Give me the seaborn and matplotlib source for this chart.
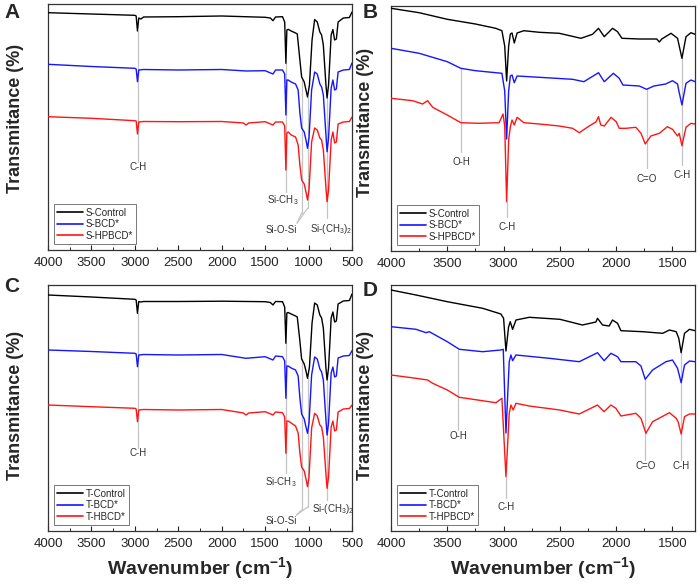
import matplotlib
matplotlib.use("Agg")
import matplotlib.pyplot as plt
import seaborn as sns
from matplotlib.ticker import MultipleLocator

# ---------------- data (transmittance in arbitrary offset units) ----------------
# Panel A  (S- samples, full range)
A_black_wn = [4000, 3500, 3000, 2985, 2970, 2955, 2930, 2900, 2500, 2150, 2000, 1500, 1440, 1410, 1380,
              1300, 1275, 1261, 1250, 1235, 1200, 1150, 1130, 1100, 1080, 1050, 1030, 1012, 990, 960,
              930, 900, 870, 850, 830, 800, 787, 770, 740, 720, 700, 680, 660, 600, 530, 500]
A_black_t = [237.3, 236, 234.7, 234, 219, 232, 231, 233, 233.3, 233.8, 234, 232.7, 232, 229.3, 233,
             233.3, 228, 186.7, 220, 220.7, 219, 217, 216, 190, 173, 168, 160, 153, 165, 210,
             230.5, 228, 218, 215, 205, 165, 152, 165, 215, 220.5, 210, 211, 228, 232, 232.5, 238]
A_blue_wn = [4000, 3500, 3000, 2985, 2970, 2955, 2900, 2500, 2000, 1720, 1500, 1410, 1380, 1300, 1275,
             1261, 1250, 1235, 1200, 1150, 1120, 1100, 1080, 1050, 1030, 1012, 995, 965, 930, 900,
             870, 850, 830, 800, 787, 770, 740, 720, 700, 680, 660, 600, 530, 500]
A_blue_t = [185.7, 183.5, 181.7, 181, 168.3, 180, 180.5, 180, 180.5, 179, 179.3, 176, 180, 180, 176,
            135, 170, 170, 168, 166, 160, 137, 122, 118, 110, 101.7, 112, 160, 178, 176,
            166, 163, 155, 115, 98.3, 112, 162, 170, 160, 161, 178, 180, 180.5, 187]
A_red_wn = [4000, 3500, 3000, 2985, 2970, 2955, 2900, 2500, 2000, 1750, 1720, 1690, 1500, 1410, 1380,
            1300, 1275, 1261, 1250, 1235, 1200, 1150, 1120, 1100, 1080, 1050, 1030, 1012, 995, 965,
            930, 900, 870, 850, 830, 800, 787, 770, 740, 720, 700, 680, 660, 600, 530, 500]
A_red_t = [133.3, 131.7, 129.3, 129, 116, 128, 128.5, 128.3, 128.5, 127, 125, 127, 128.3, 125, 128,
           128, 124, 80, 117, 118, 115, 113, 105, 85, 70, 66, 58, 50, 60, 108,
           122, 120, 112, 110, 100, 62, 48.3, 60, 110, 118, 107, 108, 126, 128, 128.5, 133]

# Panel B  (S- samples, 4000-1300)
B_black_wn = [4000, 3750, 3500, 3250, 3070, 3015, 2990, 2973, 2955, 2940, 2925, 2905, 2880, 2820, 2683,
              2506, 2313, 2210, 2157, 2106, 2032, 1988, 1949, 1795, 1640, 1617, 1595, 1513, 1455,
              1416, 1380, 1336, 1300]
B_black_t = [242.7, 238.3, 231.7, 227, 222.7, 220.3, 205, 170, 205, 217, 218, 208, 218, 220.3, 218.7,
             217.7, 212.7, 216.7, 222.7, 214.3, 222.7, 219.3, 212.7, 212, 212, 209, 212, 217.7, 212.7,
             192.7, 214.3, 218.3, 216.7]
B_blue_wn = [4000, 3750, 3500, 3380, 3250, 3015, 2990, 2973, 2955, 2940, 2925, 2905, 2880, 2683, 2387,
             2287, 2157, 2106, 2025, 1973, 1940, 1795, 1730, 1665, 1560, 1500, 1455, 1445, 1416,
             1380, 1336, 1300]
B_blue_t = [202.7, 197.7, 189.3, 182.7, 180.3, 177.7, 160, 112, 160, 175, 176, 168.3, 175, 173.7, 171.7,
            169.3, 178.3, 169.3, 177.7, 172.7, 166, 165, 161.7, 165, 167, 170.3, 167, 161, 146,
            167.7, 171, 169.3]
B_red_wn = [4000, 3808, 3720, 3675, 3630, 3500, 3380, 3220, 3040, 3005, 2990, 2973, 2955, 2940, 2925,
            2905, 2880, 2820, 2683, 2506, 2387, 2328, 2240, 2180, 2157, 2137, 2106, 2045, 2000,
            1973, 1913, 1825, 1780, 1742, 1692, 1617, 1545, 1500, 1455, 1440, 1416, 1380, 1336, 1300]
B_red_t = [152.7, 150.3, 147, 150.3, 143.7, 136, 128.3, 127.7, 128.3, 137, 125, 49.3, 111, 124.3, 131,
           126, 133.7, 128.3, 127, 125, 122.7, 118.3, 125, 129, 134.3, 126, 125, 133.7, 129.3,
           122.7, 122.7, 123.7, 117.7, 107, 115, 117.7, 124.3, 121.7, 115, 117.7, 105.3, 123.7, 127.7, 127]

# Panel C  (T- samples, full range)
C_black_wn = A_black_wn
C_black_t = [236, 234, 231.7, 231, 217.7, 229.5, 229, 229.5, 229.5, 229.7, 229.8, 229.3, 228.5, 226, 229.5,
             229.3, 224, 187.7, 218, 218.5, 217, 215, 214, 190, 172, 167, 160, 152.7, 164, 208,
             228, 226, 216, 213, 203, 163, 151, 163, 213, 219, 209, 210, 227, 230, 230.5, 237]
C_blue_wn = A_blue_wn
C_blue_t = [181, 179.5, 177.7, 177, 164.3, 176, 176.5, 176, 176.5, 172.7, 174.3, 171, 175, 174.3, 170,
            132.7, 165, 165, 163, 161, 155, 133, 117, 112, 104, 97.7, 108, 156, 174, 172,
            162, 159, 151, 111, 96, 108, 158, 164, 154, 155, 173, 175, 175.5, 180.3]
C_red_wn = A_red_wn
C_red_t = [126, 124.3, 122.7, 122, 109.3, 121, 121.5, 121, 121.5, 118, 116, 118, 119.3, 116, 119,
           118.3, 114, 77.7, 110, 110, 108, 105, 98, 78, 64, 60, 52, 44.3, 54, 103,
           117.7, 115, 106, 104, 94, 57, 42.7, 54, 104, 110, 100, 101, 119, 122, 122.5, 126]

# Panel D  (T- samples, 4000-1300)
D_black_wn = [4000, 3778, 3500, 3186, 3024, 3000, 2979, 2956, 2941, 2920, 2890, 2772, 2500, 2300, 2180,
              2166, 2121, 2062, 2033, 1988, 1958, 1765, 1587, 1527, 1467, 1444, 1423, 1393, 1349, 1300]
D_black_t = [241, 236, 229.3, 222.7, 217, 212.7, 180, 204, 209.3, 201.7, 211, 213.7, 211.7, 206, 209,
             212.7, 206, 205, 211, 207.7, 200.3, 199.3, 197.7, 201, 199.3, 192.7, 178.3, 197.7, 201.7, 200.3]
D_blue_wn = [4000, 3778, 3689, 3660, 3500, 3393, 3186, 3024, 3003, 2979, 2950, 2935, 2920, 2890, 2595,
             2328, 2166, 2107, 2047, 1988, 1958, 1825, 1780, 1742, 1677, 1558, 1500, 1455, 1423,
             1393, 1349, 1300]
D_blue_t = [204.3, 201.7, 198.3, 199.3, 189.3, 181.7, 179.3, 181, 181.7, 98, 169.3, 176, 170.3, 176, 172.7,
            169.3, 178.3, 170.3, 177.7, 174.3, 169.3, 169.3, 165, 151.7, 161, 169.3, 171, 162.7, 148.3,
            166, 170, 169.3]
D_red_wn = [4000, 3778, 3675, 3630, 3500, 3393, 3068, 3015, 2979, 2950, 2935, 2915, 2890, 2772, 2500,
            2328, 2166, 2107, 2047, 2003, 1958, 1825, 1780, 1736, 1677, 1527, 1467, 1450, 1423,
            1393, 1349, 1300]
D_red_t = [156, 152.7, 151, 147.7, 141, 133.7, 128.3, 132.7, 54.3, 117.7, 126, 121, 127.7, 125, 121,
           117, 126, 119.3, 126, 122.7, 115, 117.7, 112.7, 97.7, 109.3, 118.3, 112.7, 109.3, 97,
           114.3, 117, 117]

S_labels = ["S-Control", "S-BCD*", "S-HPBCD*"]
C_labels = ["T-Control", "T-BCD*", "T-HBCD*"]
D_labels = ["T-Control", "T-BCD*", "T-HPBCD*"]

# annotations: text, line x positions, line tops, line bottoms, join point (or None), text x, text y
A_notes = [("C-H", [2966], [219], [88], None, 2966, 83),
           ("Si-CH$_3$", [1261], [186.7], [58], None, 1300, 50),
           ("Si-O-Si", [1080, 1010], [173, 153], [37, 42], (1132, 27), 1311, 20),
           ("Si-(CH$_3$)$_2$", [786], [152], [32], None, 736, 20.5)]
B_notes = [("O-H", [3378], [182.7], [99], None, 3378, 89),
           ("C-H", [2973], [49], [34], None, 2973, 24),
           ("C=O", [1730], [161.7], [83], None, 1730, 72.5),
           ("C-H", [1416], [192.7], [86], None, 1416, 76)]
C_notes = [("C-H", [2966], [217.7], [83], None, 2966, 77.5),
           ("Si-CH$_3$", [1261], [187.7], [58], None, 1320, 49),
           ("Si-O-Si", [1080, 1010], [172, 152.7], [21, 24], (1140, 16), 1311, 10.5),
           ("Si-(CH$_3$)$_2$", [786], [151], [31], None, 720, 21.5)]
D_notes = [("O-H", [3401], [181], [101], None, 3401, 95),
           ("C-H", [2979], [54], [33], None, 2979, 24),
           ("C=O", [1742], [151.7], [71], None, 1742, 65),
           ("C-H", [1423], [178], [71], None, 1423, 65)]

colors = ["#000000", "#1515ff", "#ff1515"]

sns.set_style("ticks")
plt.rcParams["font.family"] = ["Liberation Sans", "DejaVu Sans"]
plt.rcParams["mathtext.fontset"] = "custom"
plt.rcParams["mathtext.rm"] = "Liberation Sans"
plt.rcParams["mathtext.it"] = "Liberation Sans"
plt.rcParams["mathtext.bf"] = "Liberation Sans:bold"

fig = plt.figure(figsize=(6.99, 5.85), dpi=100)
W, H = 699.0, 585.0


def make_axes(left, right, top, bottom):
    return fig.add_axes([left / W, 1 - bottom / H, (right - left) / W, (bottom - top) / H])


def draw_panel(ax, series, labels, notes, xmax_end, height):
    for (wn, t), lab, col in zip(series, labels, colors):
        sns.lineplot(x=wn, y=t, ax=ax, color=col, lw=1.0, label=lab, sort=False,
                     estimator=None, zorder=3)
    for text, xs, tops, bots, join, tx, ty in notes:
        for x, t0, b0 in zip(xs, tops, bots):
            ax.plot([x, x], [t0, b0], color="#c4c4c4", lw=0.9, zorder=1)
            if join is not None:
                ax.plot([x, join[0]], [b0, join[1]], color="#c4c4c4", lw=0.9, zorder=1)
        ax.text(tx, ty, text, fontsize=7, color="#333333", ha="center", va="center")
    ax.set_xlim(4000, xmax_end)
    ax.set_ylim(0, height)
    ax.set_yticks([])
    ax.set_xticks(list(range(4000, xmax_end - 1, -500)))
    ax.xaxis.set_minor_locator(MultipleLocator(250))
    ax.tick_params(axis="x", which="major", direction="in", length=3.5, width=0.8,
                   labelsize=9.5, pad=5, colors="#222222")
    ax.tick_params(axis="x", which="minor", direction="in", length=2, width=0.7, colors="#222222")
    ax.set_xlabel("")
    ax.set_ylabel("")
    for sp in ax.spines.values():
        sp.set_visible(True)
        sp.set_color("#333333")
        sp.set_linewidth(0.9)
    leg = ax.legend(loc="lower left", fontsize=7, frameon=True, fancybox=False, handlelength=2.6,
                    handletextpad=0.3, labelspacing=0.15, borderpad=0.35, borderaxespad=0.6)
    leg.get_frame().set_edgecolor("#555555")
    leg.get_frame().set_linewidth(0.7)
    for h in leg.get_lines():
        h.set_linewidth(1.2)


axA = make_axes(48, 352, 4, 250)
axB = make_axes(391, 695, 6, 251)
axC = make_axes(48, 352, 285, 531)
axD = make_axes(391, 695, 285, 531)

draw_panel(axA, [(A_black_wn, A_black_t), (A_blue_wn, A_blue_t), (A_red_wn, A_red_t)],
           S_labels, A_notes, 500, 246)
draw_panel(axB, [(B_black_wn, B_black_t), (B_blue_wn, B_blue_t), (B_red_wn, B_red_t)],
           S_labels, B_notes, 1300, 245)
draw_panel(axC, [(C_black_wn, C_black_t), (C_blue_wn, C_blue_t), (C_red_wn, C_red_t)],
           C_labels, C_notes, 500, 246)
draw_panel(axD, [(D_black_wn, D_black_t), (D_blue_wn, D_blue_t), (D_red_wn, D_red_t)],
           D_labels, D_notes, 1300, 246)

# panel letters
for letter, px, py in [("A", 12, 13), ("B", 370, 13), ("C", 12, 286), ("D", 370, 290)]:
    fig.text(px / W, 1 - py / H, letter, fontsize=15, fontweight="bold", ha="center", va="center")

# axis titles
for px, py in [(16, 118), (366, 122), (16, 405), (366, 405)]:
    fig.text(px / W, 1 - py / H, "Transmitance (%)", fontsize=13, fontweight="bold",
             rotation=90, ha="center", va="center")
for px in [200, 543]:
    fig.text(px / W, 1 - 568 / H, "Wavenumber (cm$^{\\mathbf{-1}}$)", fontsize=14, fontweight="bold",
             ha="center", va="center")

fig.savefig("out.png", dpi=100)
